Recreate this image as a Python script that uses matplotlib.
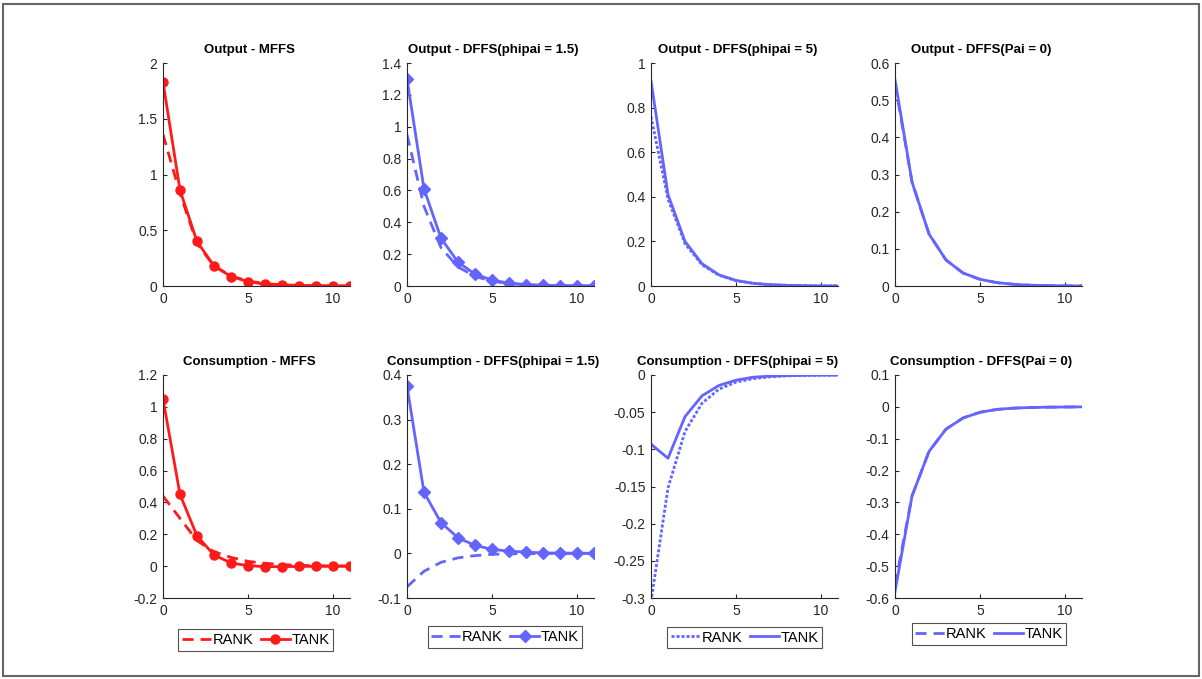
import matplotlib
matplotlib.use("Agg")
import matplotlib.pyplot as plt
from matplotlib.ticker import FuncFormatter
import numpy as np

plt.rcParams['font.family'] = ['Liberation Sans', 'DejaVu Sans']

t = np.arange(12)

# output responses
out_mffs_rank = [1.36, 0.83, 0.38, 0.18, 0.09, 0.045, 0.022, 0.011, 0.005, 0.003, 0.001, 0.0005]
out_mffs_tank = [1.83, 0.86, 0.40, 0.18, 0.085, 0.04, 0.015, 0.007, 0.003, 0.001, 0.0005, 0.0]
out_d15_rank = [0.95, 0.50, 0.24, 0.12, 0.06, 0.03, 0.015, 0.007, 0.004, 0.002, 0.001, 0.0005]
out_d15_tank = [1.30, 0.61, 0.30, 0.15, 0.075, 0.037, 0.018, 0.009, 0.004, 0.002, 0.001, 0.0005]
out_d5_rank = [0.76, 0.39, 0.19, 0.095, 0.048, 0.024, 0.012, 0.006, 0.003, 0.0015, 0.0007, 0.0003]
out_d5_tank = [0.92, 0.41, 0.20, 0.10, 0.05, 0.025, 0.012, 0.006, 0.003, 0.0015, 0.0007, 0.0003]
out_p0_rank = [0.545, 0.28, 0.14, 0.07, 0.035, 0.018, 0.009, 0.0045, 0.002, 0.001, 0.0005, 0.0003]
out_p0_tank = [0.555, 0.28, 0.14, 0.07, 0.035, 0.018, 0.009, 0.0045, 0.002, 0.001, 0.0005, 0.0003]

# consumption responses
con_mffs_rank = [0.44, 0.30, 0.16, 0.09, 0.055, 0.03, 0.018, 0.01, 0.005, 0.003, 0.001, 0.0005]
con_mffs_tank = [1.05, 0.45, 0.19, 0.07, 0.02, 0.003, -0.003, -0.003, -0.002, -0.001, -0.0005, 0.0]
con_d15_rank = [-0.075, -0.04, -0.02, -0.01, -0.005, -0.002, -0.001, -0.0005, -0.0002, -0.0001, 0.0, 0.0]
con_d15_tank = [0.375, 0.137, 0.069, 0.035, 0.018, 0.009, 0.005, 0.003, 0.001, 0.001, 0.0005, 0.0003]
con_d5_rank = [-0.305, -0.152, -0.076, -0.038, -0.019, -0.0095, -0.005, -0.0025, -0.0012, -0.0006, -0.0003, -0.0001]
con_d5_tank = [-0.093, -0.112, -0.056, -0.028, -0.014, -0.007, -0.003, -0.0015, -0.0008, -0.0004, -0.0002, -0.0001]
con_p0_rank = [-0.56, -0.28, -0.14, -0.07, -0.035, -0.017, -0.008, -0.004, -0.002, -0.001, -0.0005, 0.0]
con_p0_tank = [-0.58, -0.28, -0.14, -0.07, -0.035, -0.017, -0.008, -0.004, -0.002, -0.001, -0.0005, 0.0]

titles = ["Output - MFFS", "Output - DFFS(phipai = 1.5)", "Output - DFFS(phipai = 5)", "Output - DFFS(Pai = 0)",
          "Consumption - MFFS", "Consumption - DFFS(phipai = 1.5)", "Consumption - DFFS(phipai = 5)", "Consumption - DFFS(Pai = 0)"]
rank_data = [out_mffs_rank, out_d15_rank, out_d5_rank, out_p0_rank,
             con_mffs_rank, con_d15_rank, con_d5_rank, con_p0_rank]
tank_data = [out_mffs_tank, out_d15_tank, out_d5_tank, out_p0_tank,
             con_mffs_tank, con_d15_tank, con_d5_tank, con_p0_tank]
ylims = [(0, 2), (0, 1.4), (0, 1), (0, 0.6), (-0.2, 1.2), (-0.1, 0.4), (-0.3, 0), (-0.6, 0.1)]
ysteps = [0.5, 0.2, 0.2, 0.1, 0.2, 0.1, 0.05, 0.1]

red = '#ff1a1a'
blue = '#6464ff'
colors = [red, blue, blue, blue]
rank_styles = [(0, (4, 2.5)), (0, (4, 2.5)), (0, (1.1, 0.7)), (0, (4, 2.5))]
tank_markers = ['o', 'D', None, None]

fig = plt.figure(figsize=(12.02, 6.79), dpi=100)

lefts = [163, 407, 651, 895]
tops = [63, 375]
w_px, h_px = 187, 223
legend_pos = [(255.5, 640), (505, 637), (744.5, 637.5), (989, 634)]


def fmt(v, p):
    if abs(v) < 1e-9:
        return '0'
    return '%g' % round(v, 3)


for i in range(8):
    r, c = divmod(i, 4)
    ax = fig.add_axes([lefts[c] / 1202, 1 - (tops[r] + h_px) / 679, w_px / 1202, h_px / 679])
    ax.plot(t, rank_data[i], color=colors[c], lw=2, linestyle=rank_styles[c], label='RANK')
    ax.plot(t, tank_data[i], color=colors[c], lw=2, marker=tank_markers[c], ms=6.5, label='TANK')
    ax.set_xlim(0, 11)
    ax.set_ylim(*ylims[i])
    ax.set_xticks([0, 5, 10])
    lo, hi = ylims[i]
    ax.set_yticks(np.round(np.arange(lo, hi + 1e-9, ysteps[i]), 3))
    ax.yaxis.set_major_formatter(FuncFormatter(fmt))
    for s in ['top', 'right']:
        ax.spines[s].set_visible(False)
    for s in ['left', 'bottom']:
        ax.spines[s].set_color('#262626')
        ax.spines[s].set_linewidth(0.8)
    ax.tick_params(direction='in', length=3, width=0.8, colors='#262626', labelsize=10, pad=4)
    ax.set_title(titles[i], fontsize=9.5, fontweight='bold', pad=7, x=0.5 - 7 / w_px)
    if r == 1:
        lx, ly = legend_pos[c]
        leg = ax.legend(loc='center', bbox_to_anchor=(lx / 1202, 1 - ly / 679), bbox_transform=fig.transFigure,
                        ncol=2, fontsize=10.5, frameon=True, fancybox=False, handlelength=2.0,
                        handletextpad=0.1, columnspacing=0.5, borderpad=0.25, borderaxespad=0)
        leg.get_frame().set_edgecolor('#262626')
        leg.get_frame().set_linewidth(0.8)

# outer border
fig.add_artist(plt.Rectangle((3 / 1202, 3 / 679), 1196 / 1202, 672 / 679, transform=fig.transFigure,
                             fill=False, edgecolor='#666666', lw=1.5))

fig.savefig('out.png', dpi=100)
